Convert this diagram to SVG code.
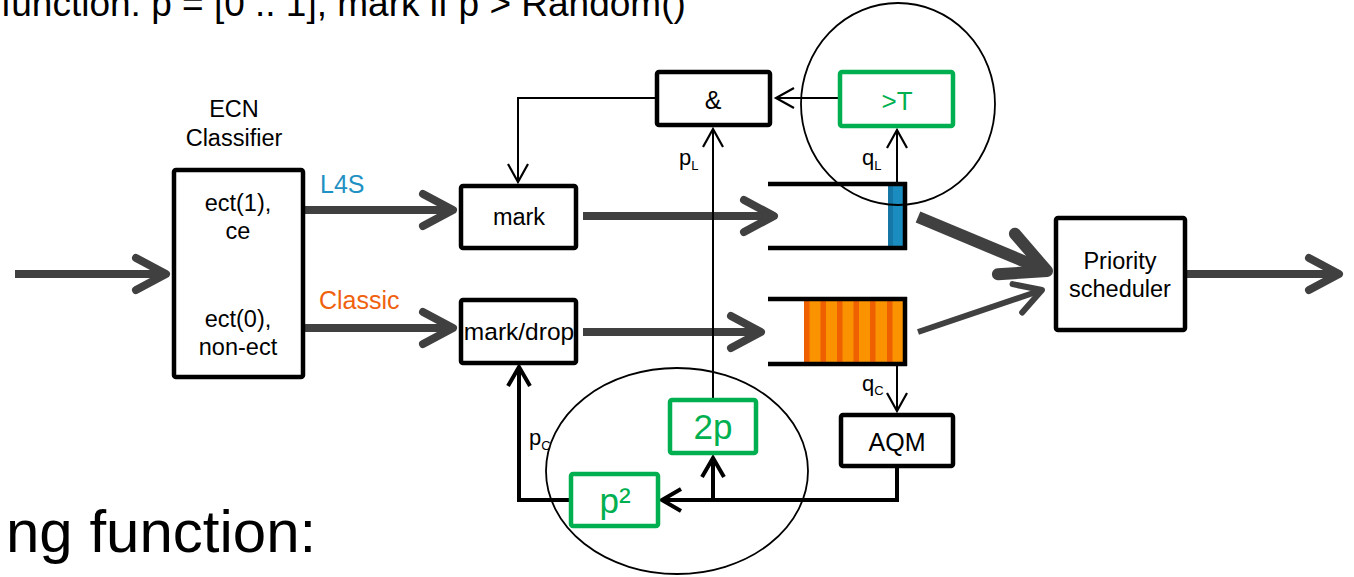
<svg xmlns="http://www.w3.org/2000/svg" width="1354" height="577" viewBox="0 0 1354 577">
<style>
text{font-family:"Liberation Sans",Arial,sans-serif;fill:#000}
.lbl{font-size:23.5px;text-anchor:middle}
.big{font-size:35px;text-anchor:middle;fill:#00B050}
.box{fill:#fff;stroke:#000;stroke-width:4.5;stroke-linejoin:round}
.gbox{fill:#fff;stroke:#00B050;stroke-width:4.5;stroke-linejoin:round}
.gray{fill:none;stroke:#404040;stroke-width:8}
.thin{fill:none;stroke:#000;stroke-width:2}
.med{fill:none;stroke:#000;stroke-width:4}
.q{fill:none;stroke:#000;stroke-width:4.5}
.ring{fill:none;stroke:#000;stroke-width:1.8}
</style>
<defs>
<marker id="g8" markerUnits="userSpaceOnUse" orient="auto" overflow="visible" markerWidth="1" markerHeight="1">
<path d="M-30,-16 L0,0 L-30,16" fill="none" stroke="#404040" stroke-width="8" stroke-linecap="round" stroke-linejoin="round"/>
</marker>
<marker id="g12" markerUnits="userSpaceOnUse" orient="auto" overflow="visible" markerWidth="1" markerHeight="1">
<path d="M-44,-22 L0,0 L-44,22" fill="none" stroke="#404040" stroke-width="12" stroke-linecap="round" stroke-linejoin="round"/>
</marker>
<marker id="g6" markerUnits="userSpaceOnUse" orient="auto" overflow="visible" markerWidth="1" markerHeight="1">
<path d="M-26,-15 L0,0 L-26,15" fill="none" stroke="#404040" stroke-width="6" stroke-linecap="round" stroke-linejoin="round"/>
</marker>
<marker id="b2" markerUnits="userSpaceOnUse" orient="auto" overflow="visible" markerWidth="1" markerHeight="1">
<path d="M-18,-10 L0,0 L-18,10" fill="none" stroke="#000" stroke-width="2.2"/>
</marker>
<marker id="b4" markerUnits="userSpaceOnUse" orient="auto" overflow="visible" markerWidth="1" markerHeight="1">
<path d="M-19,-11 L0,0 L-19,11" fill="none" stroke="#000" stroke-width="4"/>
</marker>
</defs>

<text x="1" y="16" font-size="37">function: p = [0 .. 1], mark if p &gt; Random()</text>
<text x="6" y="552" font-size="60">ng function:</text>

<g id="connectors">
<path class="gray" d="M15,274 H166" marker-end="url(#g8)"/>
<path class="gray" d="M305,210 H453" marker-end="url(#g8)"/>
<path class="gray" d="M305,328 H453" marker-end="url(#g8)"/>
<path class="gray" d="M583,216 H774" marker-end="url(#g8)"/>
<path class="gray" d="M583,332 H761" marker-end="url(#g8)"/>
<path fill="none" stroke="#404040" stroke-width="12" d="M918,217 L1047,271" marker-end="url(#g12)"/>
<path fill="none" stroke="#404040" stroke-width="6" d="M918,332 L1042,290" marker-end="url(#g6)"/>
<path class="gray" d="M1187,274 H1339" marker-end="url(#g8)"/>
<path class="thin" d="M655,98 H518 V182" marker-end="url(#b2)"/>
<path class="thin" d="M838,98 H776" marker-end="url(#b2)"/>
<path class="thin" d="M713,398 V129" marker-end="url(#b2)"/>
<path class="thin" stroke-width="2.5" d="M897,182 V130" marker-end="url(#b2)"/>
<path class="thin" d="M897,366 V411" marker-end="url(#b2)"/>
<path class="med" d="M897,468 V500 H662" marker-end="url(#b4)"/>
<path class="med" d="M713,500 V458" marker-end="url(#b4)"/>
<path class="med" d="M569,500 H519 V367" marker-end="url(#b4)"/>
</g>

<g id="classifier">
<text class="lbl" x="234" y="117">ECN</text>
<text class="lbl" x="234" y="146">Classifier</text>
<rect class="box" x="174" y="170" width="129" height="207" rx="2"/>
<text class="lbl" x="238" y="211">ect(1),</text>
<text class="lbl" x="238" y="239">ce</text>
<text class="lbl" x="238" y="327">ect(0),</text>
<text class="lbl" x="238" y="355">non-ect</text>
</g>
<g id="label-l4s"><text x="320" y="193" font-size="25" style="fill:#1F91C3">L4S</text></g>
<g id="label-classic"><text x="319" y="309" font-size="25" style="fill:#F0610E">Classic</text></g>

<g id="mark">
<rect class="box" x="461" y="186" width="115" height="62" rx="2"/>
<text class="lbl" x="519" y="225">mark</text>
</g>
<g id="markdrop">
<rect class="box" x="461" y="300" width="115" height="63" rx="2"/>
<text class="lbl" x="519" y="340" style="font-size:24.5px">mark/drop</text>
</g>
<g id="and">
<rect class="box" x="657" y="72" width="113" height="53" rx="2"/>
<text class="lbl" x="713" y="109" style="font-size:25px">&amp;</text>
</g>
<g id="threshold">
<rect class="gbox" x="840" y="72" width="113" height="54" rx="2"/>
<text class="lbl" x="897" y="110" style="fill:#00B050;font-size:26px">&gt;T</text>
</g>

<g id="l4s-queue">
<rect x="888" y="186" width="15" height="60" fill="#1B8CBF"/>
<rect x="888" y="186" width="5" height="60" fill="#1477A6"/>
<path class="q" d="M768,184 H907 M768,248 H907 M905,182 V250"/>
</g>
<g id="classic-queue">
<rect x="804" y="300" width="100" height="63" fill="#FB9200"/>
<g fill="#EF6100">
<rect x="804" y="300" width="5.5" height="63"/>
<rect x="820.5" y="300" width="5.5" height="63"/>
<rect x="837" y="300" width="5.5" height="63"/>
<rect x="853.5" y="300" width="5.5" height="63"/>
<rect x="870" y="300" width="5.5" height="63"/>
<rect x="887" y="300" width="5.5" height="63"/>
</g>
<path class="q" d="M768,299 H907 M768,364 H907 M905,297 V366"/>
</g>

<g id="labels-sub">
<text x="679" y="165" font-size="22">p<tspan font-size="13" dy="5">L</tspan></text>
<text x="862" y="165" font-size="22">q<tspan font-size="13" dy="5">L</tspan></text>
<text x="862" y="391" font-size="22">q<tspan font-size="13" dy="4">C</tspan></text>
<text x="529" y="445" font-size="22">p<tspan font-size="13" dy="5">C</tspan></text>
</g>

<g id="twop">
<rect class="gbox" x="670" y="400" width="86" height="53" rx="2"/>
<text class="big" x="713" y="439">2p</text>
</g>
<g id="psquared">
<rect class="gbox" x="571" y="474" width="87" height="52" rx="2"/>
<text class="big" x="615" y="513">p²</text>
</g>
<g id="aqm">
<rect class="box" x="841" y="415" width="112" height="51" rx="2"/>
<text class="lbl" x="897" y="451" style="font-size:25px">AQM</text>
</g>
<g id="scheduler">
<rect class="box" x="1056" y="218" width="129" height="112" rx="2"/>
<text class="lbl" x="1120" y="269">Priority</text>
<text class="lbl" x="1120" y="297">scheduler</text>
</g>

<g id="rings">
<ellipse class="ring" cx="898" cy="104" rx="97" ry="101"/>
<ellipse class="ring" cx="677" cy="471" rx="131" ry="103"/>
</g>
</svg>
